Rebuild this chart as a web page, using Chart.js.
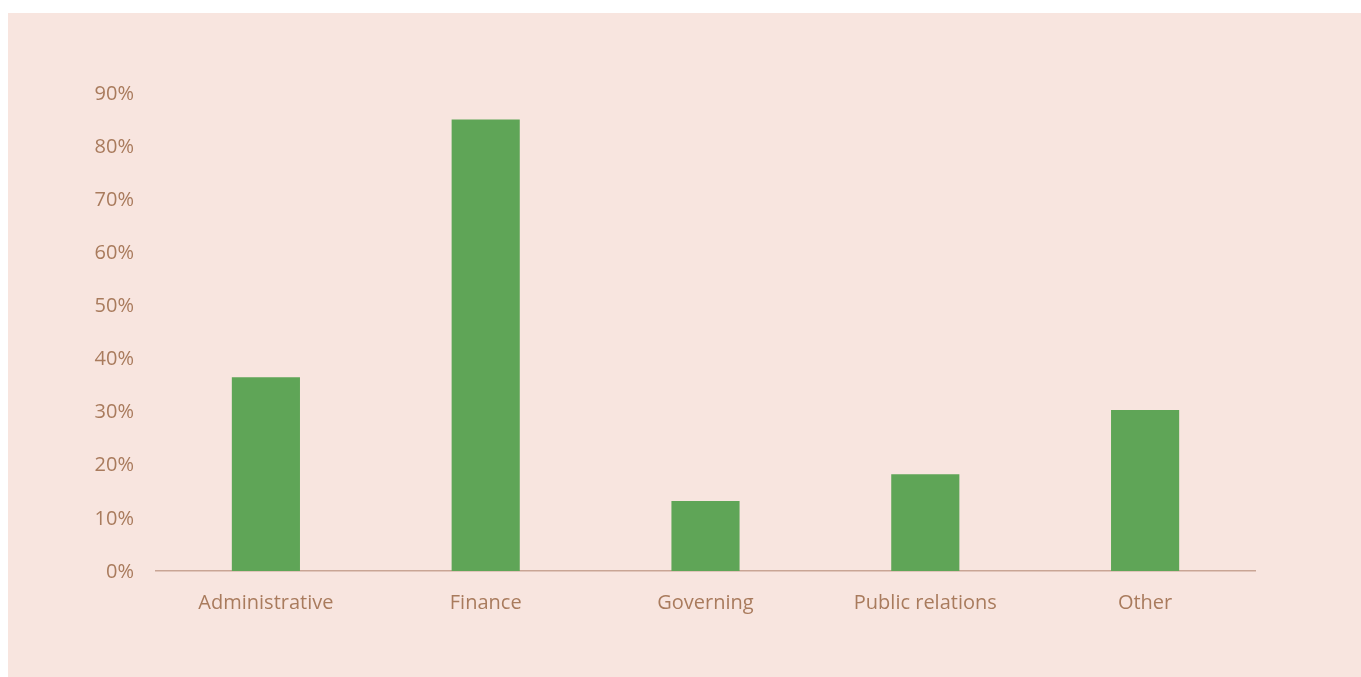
<!DOCTYPE html>
<html>
<head>
<meta charset="utf-8">
<script src="https://cdn.jsdelivr.net/npm/chart.js@4.4.1/dist/chart.umd.min.js"></script>
<style>
  html, body { margin: 0; padding: 0; background: #ffffff; }
  #wrap { position: absolute; left: 8px; top: 13px; width: 1353px; height: 664px; background: #f8e5df; }
  canvas { display: block; }
</style>
</head>
<body>
<div id="wrap"><canvas id="chart" width="1353" height="664"></canvas></div>
<script>
// Share of respondents by area
const categories = ["Administrative", "Finance", "Governing", "Public relations", "Other"];
const shares = [36.5, 85, 13.2, 18.2, 30.3];
const yTicks = [0, 10, 20, 30, 40, 50, 60, 70, 80, 90];

const textColor = "#a97b5d";
const fontSpec = { family: "'Open Sans', Lato, sans-serif", size: 20 };

new Chart(document.getElementById("chart"), {
  type: "bar",
  data: {
    labels: categories,
    datasets: [{
      data: shares,
      backgroundColor: "#5fa557",
      borderWidth: 0,
      categoryPercentage: 1,
      barPercentage: 0.31
    }]
  },
  options: {
    responsive: false,
    animation: false,
    layout: { padding: { left: 0, top: 80, right: 106, bottom: 0 } },
    plugins: { legend: { display: false }, tooltip: { enabled: false } },
    scales: {
      x: {
        grid: { display: false, drawTicks: false },
        border: { display: true, color: "#c9a595", width: 1.5 },
        ticks: { color: textColor, font: fontSpec, padding: 20, maxRotation: 0 },
        afterFit: s => { s.height = 106; }
      },
      y: {
        min: 0,
        max: 90,
        grid: { display: false, drawTicks: false },
        border: { display: false },
        afterBuildTicks: s => { s.ticks = yTicks.map(v => ({ value: v })); },
        ticks: { color: textColor, font: fontSpec, padding: 22, labelOffset: 1, callback: v => v + "%" },
        afterFit: s => { s.width = 148; }
      }
    }
  }
});
</script>
</body>
</html>
